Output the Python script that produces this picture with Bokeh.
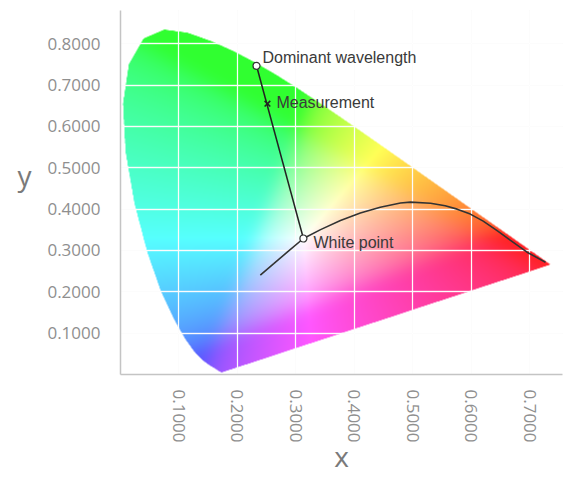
import numpy as np
from bokeh.plotting import figure
from bokeh.models import Range1d, FixedTicker, PrintfTickFormatter, Grid
from bokeh.core.properties import value
from bokeh.embed import file_html
from bokeh.resources import INLINE

# CIE 1931 spectral locus (chromaticity x, y), 380-700 nm
locus_x = [0.1741, 0.1740, 0.1738, 0.1736, 0.1733, 0.1730, 0.1726, 0.1721, 0.1714, 0.1703,
           0.1689, 0.1669, 0.1644, 0.1611, 0.1566, 0.1510, 0.1440, 0.1355, 0.1241, 0.1096,
           0.0913, 0.0687, 0.0454, 0.0235, 0.0082, 0.0039, 0.0139, 0.0389, 0.0743, 0.1142,
           0.1547, 0.1929, 0.2296, 0.2658, 0.3016, 0.3373, 0.3731, 0.4087, 0.4441, 0.4788,
           0.5125, 0.5448, 0.5752, 0.6029, 0.6270, 0.6482, 0.6658, 0.6801, 0.6915, 0.7006,
           0.7079, 0.7140, 0.7190, 0.7230, 0.7260, 0.7283, 0.7300, 0.7311, 0.7320, 0.7334,
           0.7344, 0.7347]
locus_y = [0.0050, 0.0050, 0.0049, 0.0049, 0.0048, 0.0048, 0.0048, 0.0048, 0.0051, 0.0058,
           0.0069, 0.0086, 0.0109, 0.0138, 0.0177, 0.0227, 0.0297, 0.0399, 0.0578, 0.0868,
           0.1327, 0.2007, 0.2950, 0.4127, 0.5384, 0.6548, 0.7502, 0.8120, 0.8338, 0.8262,
           0.8059, 0.7816, 0.7543, 0.7243, 0.6923, 0.6589, 0.6245, 0.5896, 0.5547, 0.5202,
           0.4866, 0.4544, 0.4242, 0.3965, 0.3725, 0.3514, 0.3340, 0.3197, 0.3083, 0.2993,
           0.2920, 0.2859, 0.2809, 0.2770, 0.2740, 0.2717, 0.2700, 0.2689, 0.2680, 0.2666,
           0.2656, 0.2653]

# Black-body style curve
curve_x = [0.239, 0.262, 0.285, 0.3127, 0.342, 0.376, 0.410, 0.444, 0.4786, 0.4957,
           0.530, 0.555, 0.5755, 0.598, 0.620, 0.645, 0.6667, 0.695, 0.7265]
curve_y = [0.2405, 0.268, 0.296, 0.3290, 0.3505, 0.3725, 0.3905, 0.4047, 0.4150, 0.4170,
           0.4144, 0.4080, 0.4000, 0.3880, 0.3710, 0.3470, 0.3245, 0.2958, 0.2716]

# Points of interest
white_x, white_y = [0.3127], [0.3290]
dominant_x, dominant_y = [0.2325], [0.7467]
measure_x, measure_y = [0.2512], [0.6550]

x_ticks = [0.1, 0.2, 0.3, 0.4, 0.5, 0.6, 0.7]
y_ticks = [0.1, 0.2, 0.3, 0.4, 0.5, 0.6, 0.7, 0.8]

XMAX, YMAX = 0.7556, 0.8805

# ---- colour field inside the spectral locus ----
def inside(px, py, vx, vy):
    res = np.zeros(px.shape, dtype=bool)
    n = len(vx)
    j = n - 1
    for i in range(n):
        xi, yi, xj, yj = vx[i], vy[i], vx[j], vy[j]
        if yi != yj:
            cond = ((yi > py) != (yj > py)) & (px < (xj - xi) * (py - yi) / (yj - yi) + xi)
            res ^= cond
        j = i
    return res


def blur1d(a, r, axis):
    a = np.moveaxis(a, axis, 0)
    pad = [(r + 1, r)] + [(0, 0)] * (a.ndim - 1)
    c = np.cumsum(np.pad(a, pad, mode="edge"), axis=0)
    out = (c[2 * r + 1:] - c[:-2 * r - 1]) / (2 * r + 1)
    return np.moveaxis(out, 0, axis)


NX, NY = 884, 728
SS = 2
vx = np.array(locus_x)
vy = np.array(locus_y)
fx = (np.arange(NX * SS) + 0.5) / (NX * SS) * XMAX
fy = (np.arange(NY * SS) + 0.5) / (NY * SS) * YMAX
FX, FY = np.meshgrid(fx, fy)
m = inside(FX, FY, vx, vy).astype(float)
alpha = m.reshape(NY, SS, NX, SS).mean(axis=(1, 3))

cx = (np.arange(NX) + 0.5) / NX * XMAX
cy = (np.arange(NY) + 0.5) / NY * YMAX
CX, CY = np.meshgrid(cx, cy)
CYs = np.maximum(CY, 2e-3)
X = CX / CYs
Y = np.ones_like(CX)
Z = np.maximum(1 - CX - CY, 0) / CYs
R = 3.2406 * X - 1.5372 * Y - 0.4986 * Z
G = -0.9689 * X + 1.8758 * Y + 0.0415 * Z
B = 0.0557 * X - 0.2040 * Y + 1.0570 * Z
rgb = np.stack([R, G, B], axis=-1)
rgb = np.clip(rgb, 0, None)
rgb = rgb / np.maximum(rgb.max(axis=-1, keepdims=True), 1e-9)
rgb = np.where(rgb <= 0.0031308, 12.92 * rgb, 1.055 * np.power(rgb, 1 / 2.4) - 0.055)
for _ in range(3):
    rgb = blur1d(rgb, 14, 0)
    rgb = blur1d(rgb, 14, 1)
rgb = rgb / np.maximum(rgb.max(axis=-1, keepdims=True), 1e-9)
r_, g_, b_ = rgb[..., 0], rgb[..., 1], rgb[..., 2]
pur_r = np.clip(r_ - np.maximum(g_, b_), 0, 1)
pur_g = np.clip(g_ - np.maximum(r_, b_), 0, 1)
f = (0.34 - 0.21 * pur_r - 0.15 * pur_g)[..., None]
rgb = (1 - f) * rgb + f
img = np.zeros((NY, NX, 4), dtype=np.uint8)
img[..., :3] = np.clip(rgb * 255, 0, 255).astype(np.uint8)
img[..., 3] = np.clip(alpha * 255, 0, 255).astype(np.uint8)
img32 = img.view(dtype=np.uint32).reshape(NY, NX)

p = figure(width=567, height=478, x_range=Range1d(0, XMAX), y_range=Range1d(0, YMAX),
           output_backend="svg", toolbar_location=None,
           min_border_left=120, min_border_right=5, min_border_top=10, min_border_bottom=104)
p.outline_line_color = None
p.background_fill_color = "white"
p.border_fill_color = "white"

p.image_rgba(image=[img32], x=0, y=0, dw=XMAX, dh=YMAX, level="image")

# faint grid (visible on white) + white grid on top of colours
p.xgrid.ticker = FixedTicker(ticks=x_ticks)
p.ygrid.ticker = FixedTicker(ticks=y_ticks)
p.xgrid.grid_line_color = "#efefef"
p.ygrid.grid_line_color = "#efefef"
wgx = Grid(dimension=0, ticker=FixedTicker(ticks=x_ticks), grid_line_color="white",
           grid_line_alpha=0.8, grid_line_width=1.3)
wgy = Grid(dimension=1, ticker=FixedTicker(ticks=y_ticks), grid_line_color="white",
           grid_line_alpha=0.8, grid_line_width=1.3)
p.add_layout(wgx)
p.add_layout(wgy)

p.xaxis.ticker = FixedTicker(ticks=x_ticks)
p.yaxis.ticker = FixedTicker(ticks=y_ticks)
for ax in (p.xaxis[0], p.yaxis[0]):
    ax.formatter = PrintfTickFormatter(format="%.4f")
    ax.major_tick_line_color = None
    ax.minor_tick_line_color = None
    ax.major_tick_out = 0
    ax.major_tick_in = 0
    ax.minor_tick_out = 0
    ax.axis_line_color = "#c4c4c4"
    ax.axis_line_width = 1.5
    ax.major_label_text_font = "Open Sans"
    ax.major_label_text_font_size = "17px"
    ax.major_label_text_color = "#8f8f8f"
    ax.axis_label_text_font = "Open Sans"
    ax.axis_label_text_font_size = "28px"
    ax.axis_label_text_font_style = "normal"
    ax.axis_label_text_color = "#7a7a7a"

p.xaxis.axis_label = "x"
p.yaxis.axis_label = "y\n"
p.xaxis.major_label_orientation = "vertical"
p.xaxis.major_label_standoff = 15
p.yaxis.major_label_standoff = 20
p.xaxis.axis_label_standoff = -9
p.xaxis.axis_label_text_line_height = 0.9
p.yaxis.axis_label_standoff = 13
p.yaxis.axis_label_text_line_height = 0.9
p.yaxis.axis_label_orientation = "horizontal"

# curve and line
p.line(curve_x, curve_y, line_color="#333333", line_width=1.6)
p.line(white_x + dominant_x, white_y + dominant_y, line_color="#222222", line_width=1.5)

p.scatter(white_x + dominant_x, white_y + dominant_y, marker="circle", size=7,
          fill_color="white", line_color="#333333", line_width=1.2)
p.scatter(measure_x, measure_y, marker="x", size=8, line_color="#222222", line_width=1.6)

tf = value("Liberation Sans")
p.text(dominant_x, dominant_y, text=["Dominant wavelength"], x_offset=6, y_offset=-8,
       text_font=tf, text_font_size="16px", text_color="#3a3a3a", text_baseline="middle")
p.text(measure_x, measure_y, text=["Measurement"], x_offset=9, y_offset=-1,
       text_font=tf, text_font_size="16px", text_color="#3a3a3a", text_baseline="middle")
p.text(white_x, white_y, text=["White point"], x_offset=10, y_offset=4,
       text_font=tf, text_font_size="16px", text_color="#3a3a3a", text_baseline="middle")

open("out.html", "w").write(file_html(p, INLINE))
